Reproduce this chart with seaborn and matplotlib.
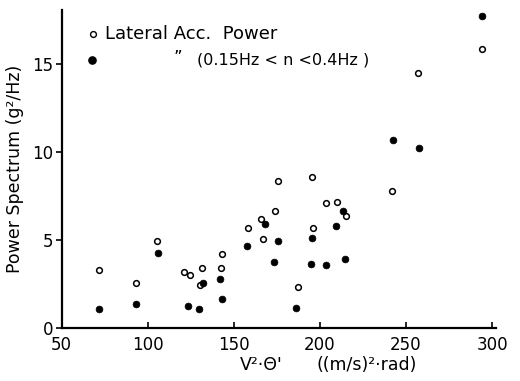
import matplotlib
matplotlib.use("Agg")
import matplotlib.pyplot as plt
import seaborn as sns
import pandas as pd

# Lateral Acc. Power (open circles)
open_x = [71.8, 93.4, 105.5, 121.3, 124.6, 130.6, 131.8, 142.8, 143.2, 158.3, 166.0, 166.8,
          174.0, 175.9, 187.5, 195.5, 196.0, 203.6, 210.0, 215.0, 242.1, 257.2, 294.4]
open_y = [3.30, 2.54, 4.96, 3.20, 2.99, 2.43, 3.39, 3.41, 4.19, 5.68, 6.18, 5.07,
          6.67, 8.35, 2.33, 8.58, 5.68, 7.10, 7.18, 6.35, 7.80, 14.50, 15.87]
# (0.15Hz < n < 0.4Hz) band (filled circles)
filled_x = [71.6, 93.3, 106.0, 123.6, 129.7, 132.0, 142.0, 143.0, 157.9, 168.0, 173.4,
            175.7, 186.4, 195.1, 195.6, 203.6, 209.6, 213.3, 214.8, 242.3, 257.4, 294.2]
filled_y = [1.10, 1.38, 4.24, 1.27, 1.10, 2.58, 2.77, 1.63, 4.64, 5.91, 3.73,
            4.94, 1.14, 3.64, 5.11, 3.60, 5.78, 6.65, 3.94, 10.66, 10.24, 17.75]

x_ticks = [50, 100, 150, 200, 250, 300]
y_ticks = [0, 5, 10, 15]

sns.set_style("ticks")
plt.rcParams['font.family'] = ['DejaVu Sans']
plt.rcParams['text.color'] = 'black'
plt.rcParams['axes.labelcolor'] = 'black'
plt.rcParams['xtick.color'] = 'black'
plt.rcParams['ytick.color'] = 'black'

fig = plt.figure(figsize=(5.2, 3.81), dpi=100)
ax = fig.add_axes([0.1183, 0.1391, 0.9538 - 0.1183, 0.9738 - 0.1391])

df_open = pd.DataFrame({"x": open_x, "y": open_y})
df_fill = pd.DataFrame({"x": filled_x, "y": filled_y})

sns.scatterplot(data=df_open, x="x", y="y", ax=ax, marker="o", s=17,
                facecolor="white", edgecolor="black", linewidth=1.1, zorder=3)
sns.scatterplot(data=df_fill, x="x", y="y", ax=ax, marker="o", s=24,
                color="black", edgecolor="black", linewidth=0.5, zorder=4)

ax.set_xlim(50, 302.3)
ax.set_ylim(0, 18.07)
ax.set_xticks(x_ticks)
ax.set_yticks(y_ticks)
ax.set_xlabel("")
ax.set_ylabel("Power Spectrum (g²/Hz)", fontsize=12.5, labelpad=6, color="black")
for s in ["top", "right"]:
    ax.spines[s].set_visible(False)
for s in ["left", "bottom"]:
    ax.spines[s].set_linewidth(1.6)
    ax.spines[s].set_color("black")
ax.tick_params(axis="x", direction="in", length=4, width=1.2, labelsize=12, pad=6,
               colors="black")
ax.tick_params(axis="y", direction="out", length=4, width=1.2, labelsize=12, pad=2,
               colors="black")

# x-axis label pieces
fig.text(240 / 520, 1 - 365 / 381, "V²·Θ'", fontsize=12.5, ha="left", va="center",
         color="black")
fig.text(317 / 520, 1 - 365 / 381, "((m/s)²·rad)", fontsize=12.5, ha="left", va="center",
         color="black")

# legend
fig.lines.append(plt.Line2D([93 / 520], [1 - 34 / 381], marker="o", markersize=4.2,
                            markerfacecolor="white", markeredgecolor="black",
                            markeredgewidth=1.0, linestyle="none",
                            transform=fig.transFigure))
fig.lines.append(plt.Line2D([92 / 520], [1 - 60 / 381], marker="o", markersize=5.2,
                            markerfacecolor="black", markeredgecolor="black",
                            linestyle="none", transform=fig.transFigure))
fig.text(105 / 520, 1 - 34 / 381, "Lateral Acc.  Power", fontsize=13, ha="left",
         va="center", color="black")
fig.text(174 / 520, 1 - 58 / 381, "\u201d", fontsize=12, ha="left", va="center",
         color="black")
fig.text(197 / 520, 1 - 60 / 381, "(0.15Hz < n <0.4Hz )", fontsize=11.5, ha="left",
         va="center", color="black")

fig.savefig("out.png", dpi=100)
